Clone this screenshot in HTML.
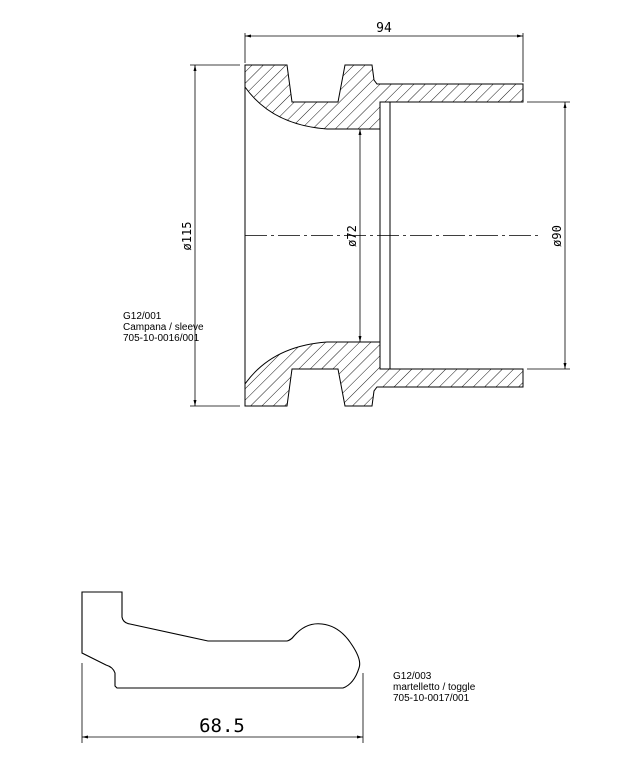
<!DOCTYPE html>
<html><head><style>
body{margin:0;background:#fff;}
svg{display:block;}
text{font-family:"Liberation Sans",Arial,sans-serif;}
.c{font-family:"DejaVu Sans Mono","Liberation Mono",monospace;}
</style></head><body>
<svg width="624" height="769" viewBox="0 0 624 769" xmlns="http://www.w3.org/2000/svg">
<defs>
<pattern id="h" patternUnits="userSpaceOnUse" width="8" height="8" patternTransform="rotate(45)">
<line x1="0" y1="0" x2="0" y2="8" stroke="#000" stroke-width="0.9"/>
</pattern>
</defs>
<g fill="none" stroke="#000" stroke-width="1">
<!-- top hatched section -->
<path d="M245,65 L287,65 L292,102 L338,102 L345,65 L372,65 L374,80 L377,84 L523,84 L523,102 L380,102 L380,129 L327,129 Q272,125 245,87 Z" fill="url(#h)"/>
<path d="M245,406 L287,406 L292,369 L338,369 L345,406 L372,406 L374,391 L377,387 L523,387 L523,369 L380,369 L380,342 L327,342 Q272,346 245,384 Z" fill="url(#h)"/>
<line x1="245" y1="87" x2="245" y2="384"/>
<rect x="380" y="102" width="10" height="267"/>
<line x1="390" y1="102" x2="523" y2="102"/>
<line x1="390" y1="369" x2="523" y2="369"/>
<!-- centerline -->
<line x1="245" y1="235.5" x2="542" y2="235.5" stroke-width="0.8" stroke-dasharray="22,4,3,4"/>
<!-- dim 94 -->
<line x1="245" y1="33" x2="245" y2="63" stroke-width="0.8"/>
<line x1="523" y1="33" x2="523" y2="82" stroke-width="0.8"/>
<line x1="245" y1="36" x2="523" y2="36" stroke-width="0.8"/>
<!-- dim 115 -->
<line x1="190" y1="65" x2="240" y2="65" stroke-width="0.8"/>
<line x1="190" y1="406" x2="240" y2="406" stroke-width="0.8"/>
<line x1="195" y1="65" x2="195" y2="406" stroke-width="0.8"/>
<!-- dim 72 -->
<line x1="360" y1="129" x2="360" y2="342" stroke-width="0.8"/>
<!-- dim 90 -->
<line x1="527" y1="102" x2="570" y2="102" stroke-width="0.8"/>
<line x1="527" y1="369" x2="570" y2="369" stroke-width="0.8"/>
<line x1="565" y1="102" x2="565" y2="369" stroke-width="0.8"/>
<!-- toggle -->
<path d="M82,592 L122,592 L122,617 Q123,623 130,624 L208,641 L287,641 Q291,640 294,636 Q306,622 322,624 Q340,626 352,645 Q362,660 359,668 Q354,684 343,688 L117,688 L115,686 L115,673 Q113,667 106,665 L82,653 Z" stroke-width="1.1"/>
<line x1="82" y1="663" x2="82" y2="743" stroke-width="0.8"/>
<line x1="363" y1="673" x2="363" y2="743" stroke-width="0.8"/>
<line x1="82" y1="737" x2="363" y2="737" stroke-width="0.8"/>
</g>
<g fill="#000">
<path d="M245,36 l6,-1.5 v3 z M523,36 l-6,-1.5 v3 z M195,65 l-1.5,6 h3 z M195,406 l-1.5,-6 h3 z M360,129 l-1.5,6 h3 z M360,342 l-1.5,-6 h3 z M565,102 l-1.5,6 h3 z M565,369 l-1.5,-6 h3 z M82,737 l6,-1.5 v3 z M363,737 l-6,-1.5 v3 z"/>
</g>
<text class="c" x="384" y="32" font-size="13" text-anchor="middle">94</text>
<text class="c" transform="translate(191,236) rotate(-90)" font-size="12" text-anchor="middle">ø115</text>
<text class="c" transform="translate(356,236) rotate(-90)" font-size="12" text-anchor="middle">ø72</text>
<text class="c" transform="translate(561,236) rotate(-90)" font-size="12" text-anchor="middle">ø90</text>
<text class="c" x="222" y="732" font-size="19" text-anchor="middle">68.5</text>
<g font-size="10">
<text x="123" y="319">G12/001</text>
<text x="123" y="330">Campana / sleeve</text>
<text x="123" y="341">705-10-0016/001</text>
<text x="393" y="679">G12/003</text>
<text x="393" y="690">martelletto / toggle</text>
<text x="393" y="701">705-10-0017/001</text>
</g>
</svg>
</body></html>
